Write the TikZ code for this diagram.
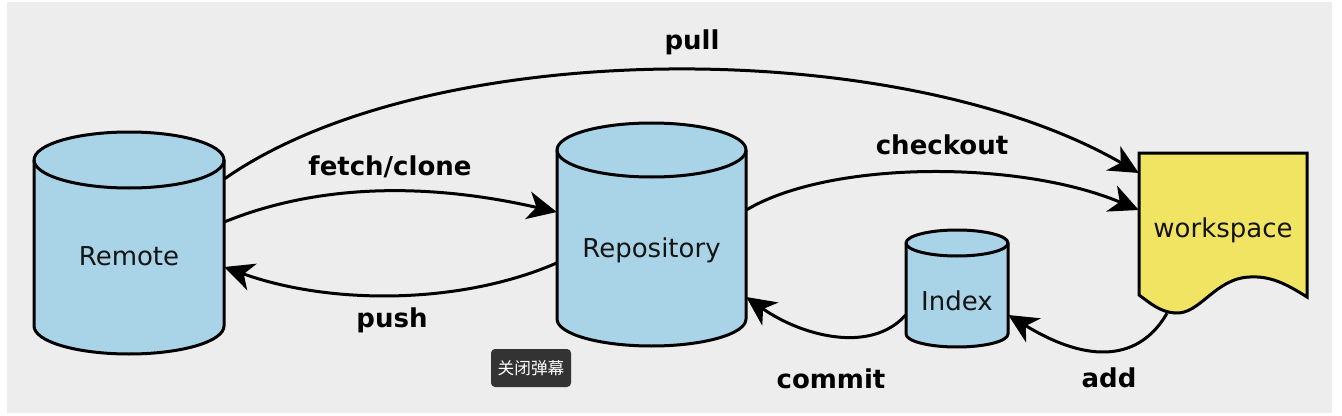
\documentclass[tikz,border=0pt]{standalone}
\usepackage{fontspec}
\setmainfont{DejaVu Sans}
\newfontfamily\cjkfont{Noto Sans CJK SC}
\usetikzlibrary{arrows.meta}
\definecolor{bgc}{RGB}{237,237,237}
\definecolor{cylblue}{RGB}{169,212,232}
\definecolor{wsyellow}{RGB}{240,228,98}
\definecolor{btn}{RGB}{51,51,51}
\newcommand\cylshape[5]{%
  \pgfmathsetmacro\cylrx{(#2-#1)/2}%
  \filldraw[cyl] (#1,#3) -- (#1,#4) arc[start angle=180,end angle=360,x radius=\cylrx,y radius=#5]
     -- (#2,#3) arc[start angle=0,end angle=180,x radius=\cylrx,y radius=#5] -- cycle;
  \draw[cyl line] (#1,#3) arc[start angle=180,end angle=360,x radius=\cylrx,y radius=#5];
}
\tikzset{
  cyl/.style={fill=cylblue, draw=black, line width=2.25pt},
  cyl line/.style={draw=black, line width=2.25pt},
  wsshape/.style={fill=wsyellow, draw=black, line width=2.25pt, line join=miter},
  conn/.style={line width=2.25pt, -{Stealth[length=22pt,width=21pt,inset=6.5pt]}},
  lbl/.style={font=\fontsize{19.5}{22}\selectfont\bfseries, text=black, anchor=base, inner sep=0pt},
  shapebox/.style={draw=none, inner sep=0pt, font=\fontsize{19.5}{22}\selectfont, text=black!92, text depth=0pt},
  danmubtn/.style={fill=btn, rounded corners=3pt, text=white, font=\cjkfont\fontsize{12.5}{14}\selectfont,
     minimum width=60pt, minimum height=28.5pt, inner sep=0pt}
}
\begin{document}
\begin{tikzpicture}[x=0.75pt,y=0.75pt]
\useasboundingbox (0,0) rectangle (1342,415);
\fill[bgc] (7,2) rectangle (1332,413);
% shapes
\cylshape{34}{224}{255}{89}{28}
\cylshape{557}{746}{265}{96}{27}
\cylshape{906}{1008}{172}{81}{13}
\filldraw[wsshape] (1139,262) -- (1307,262) -- (1307,118)
  .. controls (1285,132) and (1270,139) .. (1250,138)
  .. controls (1215,137) and (1200,100) .. (1175,102)
  .. controls (1160,103) and (1150,112) .. (1139,120) -- cycle;
% named nodes
\node[shapebox, minimum width=142.5pt, minimum height=166.5pt, text height=33pt] (remote) at (129,172) {Remote};
\node[shapebox, minimum width=141.75pt, minimum height=167.25pt, text height=33.75pt] (repo) at (651.5,180.5) {Repository};
\node[shapebox, minimum width=76.5pt, minimum height=87.75pt, text height=32.25pt] (index) at (957,126.5) {Index};
\node[shapebox, minimum width=126pt, minimum height=120pt, text height=6pt] (workspace) at (1223,182) {workspace};
% labels
\node[lbl] (lpull) at (692,365) {pull};
\node[lbl] (lfetch) at (390,240) {fetch/clone};
\node[lbl] (lpush) at (392,88) {push};
\node[lbl] (lcheckout) at (942,261) {checkout};
\node[lbl] (lcommit) at (831,27) {commit};
\node[lbl] (ladd) at (1109,28) {add};
\node[danmubtn] (danmu) at (531,47) {关闭弹幕};
% connectors
\draw[conn] (remote.east |- 0,236) .. controls (430,380) and (900,380) .. (workspace.west |- 0,242);
\draw[conn] (remote.east |- 0,193) .. controls (320,232) and (430,232) .. (repo.west |- 0,203);
\draw[conn] (repo.west |- 0,152) .. controls (460,110) and (330,110) .. (remote.east |- 0,148);
\draw[conn] (repo.east |- 0,205) .. controls (830,255) and (1020,255) .. (workspace.west |- 0,205);
\draw[conn] (index.west |- 0,100) .. controls (870,60) and (800,80) .. (repo.east |- 0,118);
\draw[conn] (workspace.south -| 1167,0) .. controls (1140,55) and (1090,50) .. (index.east |- 0,100);
\end{tikzpicture}
\end{document}
